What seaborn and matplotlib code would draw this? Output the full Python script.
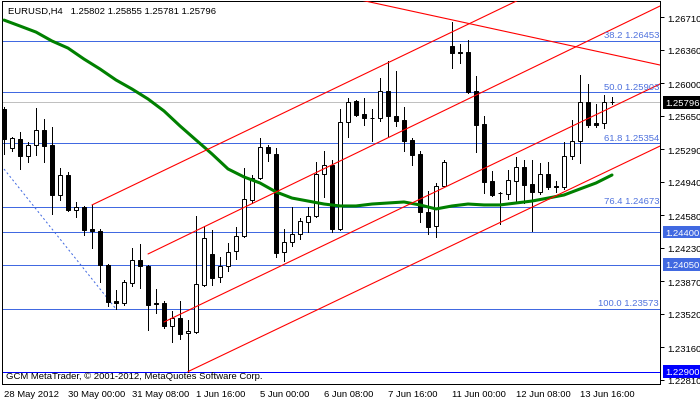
import matplotlib
matplotlib.use('Agg')
import matplotlib.pyplot as plt
import matplotlib.transforms as mtransforms
import numpy as np
import seaborn as sns

# EURUSD H4 candles, 28 May 2012 16:00 .. 14 Jun 2012 08:00
opens = [1.25723, 1.25303, 1.25400, 1.25217, 1.25336, 1.25497, 1.25336, 1.24798, 1.25013, 1.24637,
         1.24669, 1.24433, 1.24411, 1.24046, 1.23659, 1.23637, 1.23852, 1.24099, 1.24035, 1.23637,
         1.23637, 1.23390, 1.23476, 1.23315, 1.23325, 1.23831, 1.24164, 1.23917, 1.24035, 1.24196,
         1.24357, 1.24744, 1.24981, 1.25314, 1.25239, 1.24185, 1.24293, 1.24379, 1.24508, 1.24572,
         1.25024, 1.25121, 1.24433, 1.25583, 1.25809, 1.25669, 1.25626, 1.25626, 1.25915, 1.25647,
         1.25604, 1.25389, 1.25239, 1.24615, 1.24465, 1.24895, 1.26399, 1.26334, 1.26334, 1.25915,
         1.25561, 1.24949, 1.24820, 1.24809, 1.24949, 1.25099, 1.24917, 1.24831, 1.25024, 1.24890,
         1.24884, 1.25217, 1.25379, 1.25798, 1.25572, 1.25572, 1.25802]
highs = [1.25744, 1.25422, 1.25475, 1.25368, 1.25733, 1.25615, 1.25529, 1.25089, 1.25046, 1.24723,
         1.24680, 1.24691, 1.24433, 1.24057, 1.23777, 1.23885, 1.24228, 1.24271, 1.24046, 1.23788,
         1.23659, 1.23551, 1.23659, 1.23454, 1.24572, 1.24465, 1.24422, 1.24132, 1.24282, 1.24454,
         1.25089, 1.25013, 1.25411, 1.25336, 1.25303, 1.24433, 1.24669, 1.24551, 1.24669, 1.25153,
         1.25272, 1.25174, 1.25723, 1.25840, 1.25819, 1.25840, 1.25723, 1.26055, 1.26238, 1.26130,
         1.25744, 1.25411, 1.25272, 1.24841, 1.24927, 1.25174, 1.26657, 1.26420, 1.26463, 1.26077,
         1.25647, 1.25056, 1.24831, 1.25067, 1.25207, 1.25174, 1.25174, 1.25142, 1.25153, 1.24949,
         1.25368, 1.25604, 1.26087, 1.25991, 1.25776, 1.25872, 1.25855]
lows = [1.25239, 1.25272, 1.25078, 1.25153, 1.25228, 1.25153, 1.24594, 1.24744, 1.24626, 1.24562,
        1.24368, 1.24228, 1.23863, 1.23605, 1.23573, 1.23616, 1.23820, 1.23799, 1.23347, 1.23530,
        1.23368, 1.23218, 1.23250, 1.22900, 1.23310, 1.23820, 1.23831, 1.23863, 1.23981, 1.24110,
        1.24350, 1.24712, 1.24970, 1.25164, 1.24132, 1.24089, 1.24250, 1.24325, 1.24400, 1.24565,
        1.24777, 1.24400, 1.24422, 1.25422, 1.25647, 1.25551, 1.25379, 1.25594, 1.25432, 1.25540,
        1.25272, 1.25121, 1.24508, 1.24379, 1.24347, 1.24890, 1.26163, 1.26216, 1.25894, 1.25260,
        1.24820, 1.24788, 1.24486, 1.24755, 1.24712, 1.24712, 1.24411, 1.24809, 1.24863, 1.24831,
        1.24863, 1.25185, 1.25142, 1.25529, 1.25529, 1.25518, 1.25781]
closes = [1.25400, 1.25411, 1.25217, 1.25336, 1.25497, 1.25325, 1.24798, 1.25013, 1.24637, 1.24669,
          1.24422, 1.24411, 1.24046, 1.23648, 1.23637, 1.23863, 1.24099, 1.24035, 1.23616, 1.23626,
          1.23390, 1.23476, 1.23304, 1.23336, 1.23842, 1.24336, 1.23906, 1.24035, 1.24185, 1.24357,
          1.24755, 1.24981, 1.25314, 1.25250, 1.24175, 1.24293, 1.24379, 1.24519, 1.24572, 1.25024,
          1.25121, 1.24433, 1.25583, 1.25798, 1.25658, 1.25626, 1.25621, 1.25915, 1.25647, 1.25594,
          1.25379, 1.25228, 1.24615, 1.24454, 1.24895, 1.25153, 1.26324, 1.26320, 1.25905, 1.25551,
          1.24938, 1.24798, 1.24815, 1.24960, 1.25099, 1.24906, 1.24831, 1.25024, 1.24884, 1.24880,
          1.25217, 1.25379, 1.25798, 1.25551, 1.25551, 1.25798, 1.25796]

# moving average, read every second bar
ma_bars = list(range(0, 77, 2))
ma_vals = [1.26678, 1.26614, 1.26549, 1.26453, 1.26377, 1.26259, 1.26152, 1.26034, 1.25937, 1.25830,
           1.25701, 1.25540, 1.25389, 1.25239, 1.25078, 1.24992, 1.24927, 1.24831, 1.24765, 1.24733,
           1.24701, 1.24680, 1.24680, 1.24701, 1.24712, 1.24723, 1.24691, 1.24648, 1.24680, 1.24701,
           1.24691, 1.24691, 1.24712, 1.24733, 1.24765, 1.24798, 1.24863, 1.24927, 1.25013]

# trend lines (channels) : start bar/price -> end bar/price
trend_x0 = [11, 18, 20, 23, 44.5]
trend_y0 = [1.24691, 1.24164, 1.23433, 1.22900, 1.26895]
trend_x1 = [82, 82, 82, 82, 82]
trend_y1 = [1.27624, 1.26829, 1.25991, 1.25324, 1.26195]

# fibonacci retracement
fib_pct = ['38.2', '50.0', '61.8', '76.4', '100.0']
fib_price = [1.26453, 1.25903, 1.25354, 1.24673, 1.23573]
fib_base_x = [0, 14]
fib_base_y = [1.25077, 1.23573]

# other horizontal lines
hline_price = [1.24400, 1.24050]
low_line = 1.22900
last_price = 1.25796

yticks = [1.26710, 1.26360, 1.26000, 1.25650, 1.25290, 1.24940, 1.24580,
          1.24230, 1.23870, 1.23520, 1.23160, 1.22810]
xtick_bars = [0, 8, 16, 24, 32, 40, 48, 56, 64, 72]
xtick_labels = ['28 May 2012', '30 May 00:00', '31 May 08:00', '1 Jun 16:00', '5 Jun 00:00',
                '6 Jun 08:00', '7 Jun 16:00', '11 Jun 00:00', '12 Jun 08:00', '13 Jun 16:00']

sns.set_style('white')
plt.rcParams['font.family'] = ['Liberation Sans', 'DejaVu Sans']
FS = 6.8
PX = 0.72  # one pixel in points at dpi 100

fig = plt.figure(figsize=(7, 4.02), dpi=100)
ax = fig.add_axes([2 / 700, 1 - 384.5 / 402, 658 / 700, 382.5 / 402])
ax.set_xlim(-0.25, 82)
ax.set_ylim(1.22772, 1.26883)

o = np.array(opens)
c = np.array(closes)
bars = np.arange(len(o))
up = c >= o

# horizontal levels
for p in fib_price + hline_price:
    ax.axhline(p, color='#4169E1', lw=PX, antialiased=False, zorder=2)
ax.axhline(low_line, color='#0000FF', lw=PX, antialiased=False, zorder=2)
ax.axhline(last_price, color='#C0C0C0', lw=PX, antialiased=False, zorder=2)
ax.plot(fib_base_x, fib_base_y, color='#4169E1', lw=PX, ls=(0, (2, 2.5)), zorder=2)

# candles
ax.vlines(bars, lows, highs, color='black', lw=PX, antialiased=False, zorder=3)
ax.bar(bars, np.abs(c - o), bottom=np.minimum(o, c), width=0.5,
       color=np.where(up, 'white', 'black'), edgecolor='black', lw=PX, zorder=4)

# moving average
sns.lineplot(x=ma_bars, y=ma_vals, color='#008000', linewidth=2.2, ax=ax, zorder=5)

# red trend lines
for x0, y0, x1, y1 in zip(trend_x0, trend_y0, trend_x1, trend_y1):
    ax.plot([x0, x1], [y0, y1], color='#FF0000', lw=0.8, zorder=6)

# fib labels
trans_r = mtransforms.blended_transform_factory(ax.transAxes, ax.transData)
for pct, p in zip(fib_pct, fib_price):
    ax.annotate(f'{pct} {p:.5f}', xy=(0.9985, p), xycoords=trans_r, xytext=(0, 1.2),
                textcoords='offset points', ha='right', va='bottom', fontsize=FS,
                color='#4F72DE', zorder=7)

# axes style
for s in ax.spines.values():
    s.set_color('black')
    s.set_linewidth(PX)
ax.yaxis.tick_right()
ax.set_yticks(yticks)
ax.set_yticklabels([f'{v:.5f}' for v in yticks])
ax.set_xticks(xtick_bars)
ax.set_xticklabels(xtick_labels, ha='left')
ax.tick_params(axis='both', direction='out', length=3, width=PX, color='black',
               labelsize=FS, labelcolor='black')
ax.tick_params(axis='x', pad=1.0)
ax.tick_params(axis='y', pad=2.0)
ax.set_xlabel('')
ax.set_ylabel('')

# boxed price labels on the right scale
boxed = [(last_price, 'black'), (hline_price[0], '#4169E1'),
         (hline_price[1], '#4169E1'), (low_line, '#0000FF')]
for p, col in boxed:
    ax.text(1.0075, p, f'{p:.5f}', transform=trans_r, ha='left', va='center',
            fontsize=FS, color='white', zorder=8, clip_on=False,
            bbox=dict(boxstyle='square,pad=0.2', fc=col, ec='none'))

ax.text(0.009, 0.976, 'EURUSD,H4   1.25802 1.25855 1.25781 1.25796', transform=ax.transAxes,
        ha='left', va='center', fontsize=FS, color='black', zorder=8)
ax.text(0.006, 0.02, 'GCM MetaTrader, © 2001-2012, MetaQuotes Software Corp.',
        transform=ax.transAxes, ha='left', va='center', fontsize=FS, color='black', zorder=8)

fig.savefig('out.png', dpi=100, facecolor='white')
